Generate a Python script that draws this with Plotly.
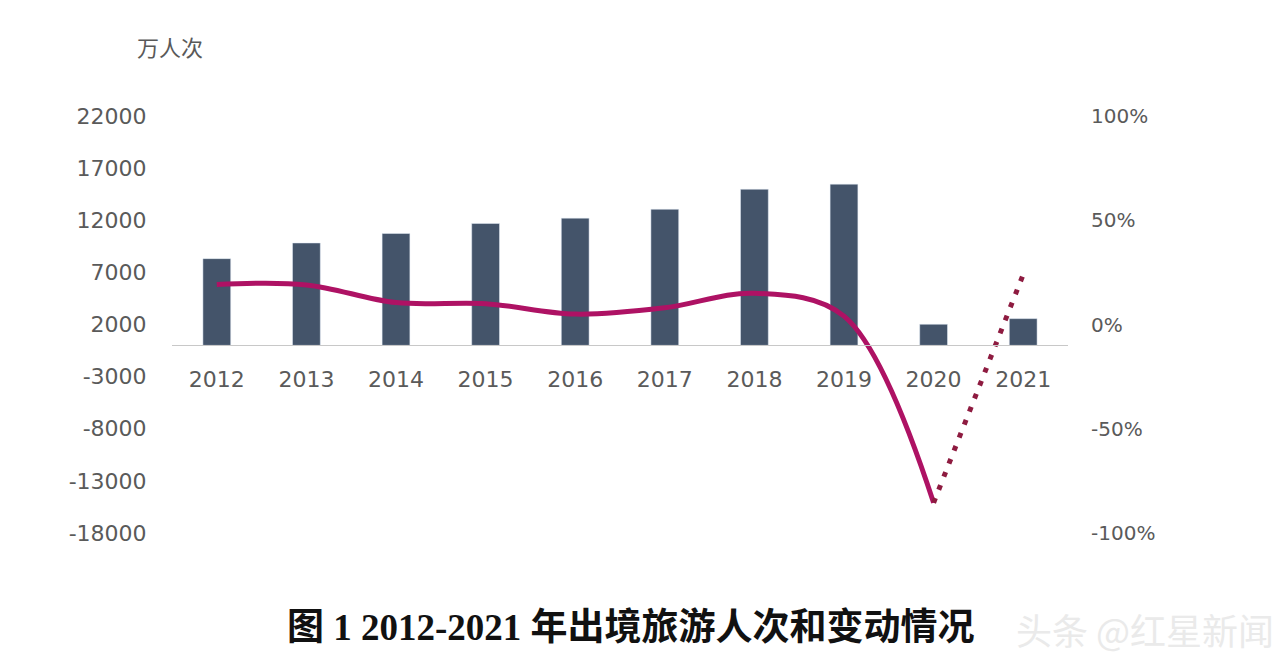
import plotly.graph_objects as go

years = ["2012", "2013", "2014", "2015", "2016", "2017", "2018", "2019", "2020", "2021"]
trips = [8318, 9819, 10728, 11689, 12203, 13051, 14972, 15463, 2023, 2562]
growth = [0.192, 0.19, 0.105, 0.10, 0.05, 0.08, 0.15, 0.04, -0.855, 0.24]

left_ticks = [22000, 17000, 12000, 7000, 2000, -3000, -8000, -13000, -18000]
right_ticks = [1.0, 0.5, 0.0, -0.5, -1.0]
right_labels = ["100%", "50%", "0%", "-50%", "-100%"]

tick_font = dict(family="DejaVu Sans, Noto Sans CJK SC", size=22, color="#5a5a5a")

fig = go.Figure()
fig.add_trace(go.Bar(x=years, y=trips, marker_color="#44546A", yaxis="y", showlegend=False))
fig.add_trace(go.Scatter(x=years[:9], y=growth[:9], mode="lines", yaxis="y2",
                         line=dict(color="#AE1264", width=5, shape="spline", smoothing=1.0),
                         showlegend=False))
fig.add_trace(go.Scatter(x=years[8:], y=growth[8:], mode="lines", yaxis="y2",
                         line=dict(color="#8E1B40", width=5, dash="5px,9px"),
                         showlegend=False))

fig.update_layout(
    width=1282, height=672,
    margin=dict(l=172, r=214, t=116, b=139),
    paper_bgcolor="white", plot_bgcolor="white",
    bargap=0.69,
    xaxis=dict(type="category", anchor="free", position=0.45, showline=True,
               linecolor="#C8C8C8", linewidth=1, ticks="outside", ticklen=14,
               tickcolor="rgba(0,0,0,0)", tickfont=tick_font, showgrid=False,
               zeroline=False),
    yaxis=dict(range=[-18000, 22000], tickvals=left_ticks,
               ticktext=[str(v) for v in left_ticks], showgrid=False, zeroline=False,
               showline=False, ticks="outside", ticklen=20, tickcolor="rgba(0,0,0,0)",
               tickfont=tick_font),
    yaxis2=dict(range=[-1, 1], overlaying="y", side="right", tickvals=right_ticks,
                ticktext=right_labels, showgrid=False, zeroline=False, showline=False,
                ticks="outside", ticklen=18, tickcolor="rgba(0,0,0,0)",
                tickfont=dict(family="DejaVu Sans", size=20, color="#5a5a5a")),
    annotations=[
        dict(text="万人次", xref="paper", yref="paper", x=-0.002, y=1.0, yshift=70,
             showarrow=False, xanchor="center", yanchor="middle",
             font=dict(family="Noto Sans CJK SC", size=22, color="#595959")),
        dict(text="<b>图 1 2012-2021 年出境旅游人次和变动情况</b>", xref="paper", yref="paper",
             x=0.512, y=0, yshift=-94, showarrow=False, xanchor="center", yanchor="middle",
             font=dict(family="Liberation Serif, Noto Sans CJK SC", size=37, color="#111111")),
        dict(text="头条 @红星新闻", xref="paper", yref="paper", x=1.232, y=0, yshift=-96,
             showarrow=False, xanchor="right", yanchor="middle",
             font=dict(family="Noto Sans CJK SC", size=36, color="#EAEAEA")),
    ],
)

fig.write_html("out.html")
